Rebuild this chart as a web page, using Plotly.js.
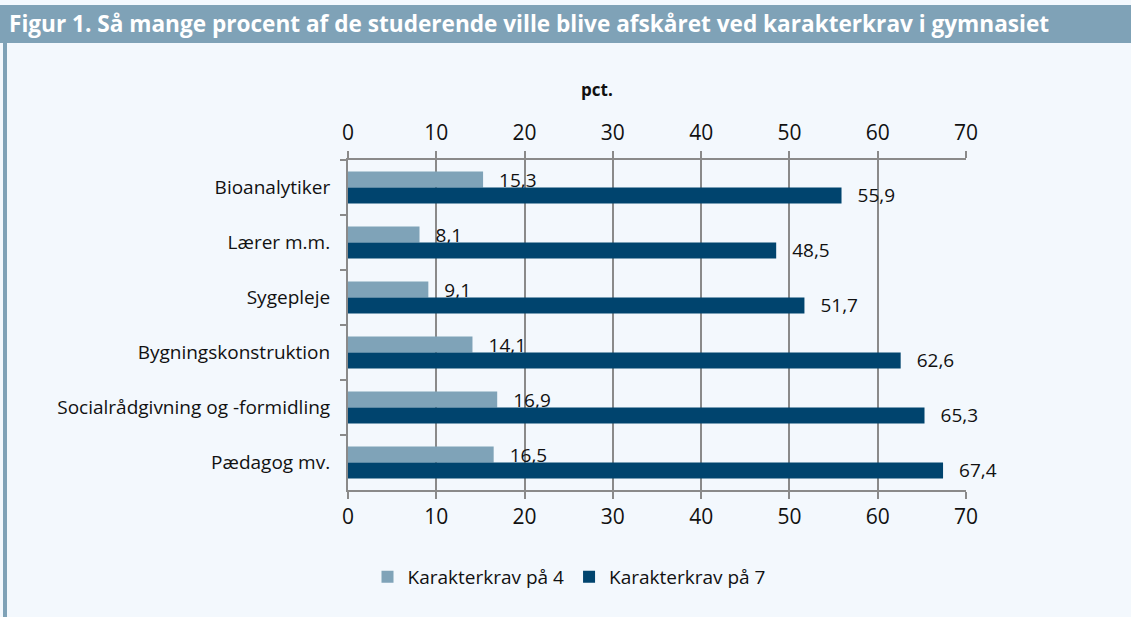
<!DOCTYPE html>
<html>
<head>
<meta charset="utf-8">
<script src="https://cdn.plot.ly/plotly-3.0.1.min.js"></script>
<style>
html,body{margin:0;padding:0;background:#F3F8FD;}
#chart{width:1131px;height:617px;}
</style>
</head>
<body>
<div id="chart"></div>
<script>
var categories = ['Bioanalytiker','Lærer m.m.','Sygepleje','Bygningskonstruktion','Socialrådgivning og -formidling','Pædagog mv.'];
var seriesNames = ['Karakterkrav på 4','Karakterkrav på 7'];
var krav4 = [15.3, 8.1, 9.1, 14.1, 16.9, 16.5];
var krav7 = [55.9, 48.5, 51.7, 62.6, 65.3, 67.4];
var tickVals = [0,10,20,30,40,50,60,70];
var titleText = 'Figur 1. Så mange procent af de studerende ville blive afskåret ved karakterkrav i gymnasiet';
var axisTitle = 'pct.';

var W = 1131, H = 617;
var L = 348, R = 966, T = 160, B = 490;
function px(x){ return (x - L) / (R - L); }
function py(y){ return (B - y) / (B - T); }

var FONT = 'Open Sans, Noto Sans, sans-serif';
var LIGHT = '#7FA3B8', DARK = '#00446E', GRID = '#8A8A8A';
var FS = 19, FX = 21;
var lab = '\u00a0\u00a0\u2009%{x:.1f}';

var tr4 = {
  type:'bar', orientation:'h', name:seriesNames[0],
  y:categories, x:krav4,
  marker:{color:LIGHT},
  texttemplate:lab, textposition:'outside',
  textfont:{family:FONT, size:FS, color:'#111'},
  constraintext:'none', cliponaxis:false, hoverinfo:'x+y'
};
var tr7 = {
  type:'bar', orientation:'h', name:seriesNames[1],
  y:categories, x:krav7,
  marker:{color:DARK},
  texttemplate:lab, textposition:'outside',
  textfont:{family:FONT, size:FS, color:'#111'},
  constraintext:'none', cliponaxis:false, hoverinfo:'x+y'
};
var dummy = {type:'scatter', x:[0], y:[categories[0]], xaxis:'x2', yaxis:'y', mode:'markers',
  marker:{opacity:0}, showlegend:false, hoverinfo:'skip'};

var layout = {
  width:W, height:H,
  paper_bgcolor:'#F3F8FD', plot_bgcolor:'#F3F8FD',
  separators:', ',
  margin:{l:L, r:W-R, t:T, b:H-B, pad:0},
  font:{family:FONT, size:FS, color:'#111'},
  title:{text:'<b>'+titleText+'</b>', font:{family:FONT, size:22.6, color:'#FFFFFF'},
    x:0.008, xref:'container', xanchor:'left', y:1-24/H, yref:'container', yanchor:'middle'},
  barmode:'group', bargap:0.42, bargroupgap:0,
  showlegend:true,
  legend:{orientation:'h', x:px(569), xanchor:'center', y:py(577), yanchor:'middle',
    font:{family:FONT, size:FS, color:'#111'}, bgcolor:'rgba(0,0,0,0)', traceorder:'normal',
    itemwidth:30},
  xaxis:{range:[0,70], tickvals:tickVals, ticks:'outside', ticklen:7, tickcolor:GRID, tickwidth:2,
    showline:true, linecolor:GRID, linewidth:2, showgrid:true, gridcolor:GRID, gridwidth:2,
    zeroline:false, tickfont:{family:FONT, size:FX, color:'#111'}, fixedrange:true, side:'bottom'},
  xaxis2:{range:[0,70], overlaying:'x', side:'top', tickvals:tickVals, ticks:'outside', ticklen:7,
    tickcolor:GRID, tickwidth:2, showline:true, linecolor:GRID, linewidth:2, showgrid:false,
    zeroline:false, ticklabelstandoff:3, tickfont:{family:FONT, size:FX, color:'#111'}},
  yaxis:{type:'category', autorange:'reversed', ticks:'outside', tickson:'boundaries', ticklen:6,
    tickcolor:GRID, tickwidth:2, showline:true, linecolor:GRID, linewidth:2, showgrid:false,
    zeroline:false, ticklabelstandoff:12, tickfont:{family:FONT, size:FS, color:'#111'}},
  annotations:[
    {text:'<b>'+axisTitle+'</b>', xref:'paper', yref:'paper', x:px(597), y:py(90),
      xanchor:'center', yanchor:'middle', showarrow:false, font:{family:FONT, size:17, color:'#111'}}
  ],
  shapes:[
    {type:'rect', xref:'paper', yref:'paper', x0:px(0), x1:px(W), y0:py(43), y1:py(5),
      fillcolor:'#7FA2B7', line:{width:0}, layer:'below'},
    {type:'rect', xref:'paper', yref:'paper', x0:px(3), x1:px(7), y0:py(H), y1:py(43),
      fillcolor:'#7FA2B7', line:{width:0}, layer:'below'}
  ]
};

Plotly.newPlot('chart', [tr4, tr7, dummy], layout, {displayModeBar:false, staticPlot:true});
</script>
</body>
</html>
